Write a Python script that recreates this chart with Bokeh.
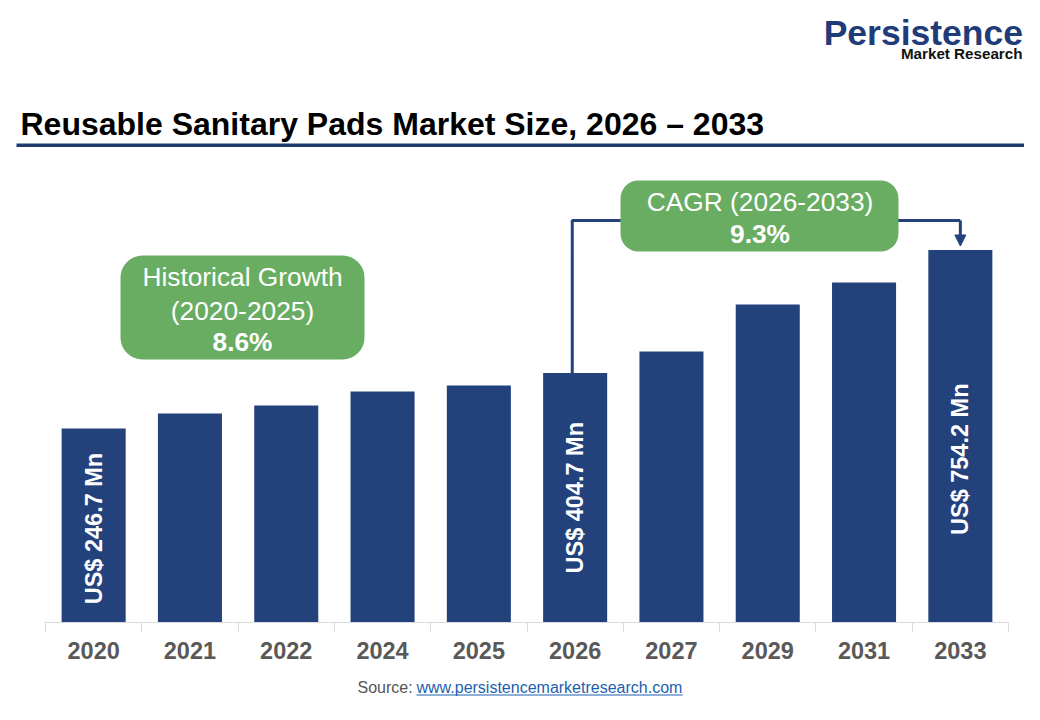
import math
from bokeh.plotting import figure
from bokeh.layouts import column
from bokeh.models import (Range1d, FixedTicker, Label, BoxAnnotation, Arrow,
                          NormalHead, ColumnDataSource)
from bokeh.core.properties import value
from bokeh.embed import file_html
from bokeh.resources import INLINE

# data
years = ["2020", "2021", "2022", "2024", "2025", "2026", "2027", "2029", "2031", "2033"]
market_size = [246.7, 289.5, 312.3, 352.1, 369.1, 404.7, 465.8, 599.3, 661.7, 754.2]
label_years = ["2020", "2026", "2033"]
hist_cagr = "8.6%"
fcst_cagr = "9.3%"

NAVY = "#23427c"
GREEN = "#69ad62"
FONT = "Liberation Sans"

# pixel layout of the infographic -> data units
CAT_LEFT = 45.0      # x of first category boundary
CAT_W = 96.3         # px per category
BASE_PX = 622.0      # y of the bar baseline
PX_PER_UNIT = 0.3519
FLOOR = -304.3       # value at the baseline (truncated axis)
W, H = 1024, 704
H_MAIN = 668


def ux(px):
    return (px - CAT_LEFT) / CAT_W


def vy(py):
    return FLOOR + (BASE_PX - py) / PX_PER_UNIT


p = figure(width=W, height=H_MAIN,
           x_range=Range1d(ux(0), ux(W)), y_range=Range1d(vy(BASE_PX), vy(0)),
           y_axis_location=None, toolbar_location=None, output_backend="svg",
           min_border_left=0, min_border_right=0, min_border_top=0,
           min_border_bottom=H_MAIN - int(BASE_PX), outline_line_color=None)
p.grid.visible = False
p.background_fill_color = "white"
p.border_fill_color = "white"

# bars
xs = [i + 0.5 for i in range(len(years))]
src = ColumnDataSource(dict(x=xs, top=market_size, year=years))
p.vbar(x="x", top="top", bottom=FLOOR, width=0.665, source=src,
       fill_color=NAVY, line_color=None)

# x axis: labels at category centers, small ticks at boundaries
ax = p.xaxis[0]
ax.ticker = FixedTicker(ticks=xs, minor_ticks=list(range(len(years) + 1)))
ax.major_label_overrides = {x: y for x, y in zip(xs, years)}
ax.bounds = (0, len(years))
ax.axis_line_color = "#d9d9d9"
ax.major_tick_out = 0
ax.major_tick_in = 0
ax.minor_tick_out = 9
ax.minor_tick_in = 0
ax.minor_tick_line_color = "#d9d9d9"
ax.major_label_text_font = FONT
ax.major_label_text_font_style = "bold"
ax.major_label_text_font_size = "23.5px"
ax.major_label_text_color = "#595959"
ax.major_label_standoff = 10

# rotated value labels inside bars
shift_px = [3, 0, 23]
lx, ly, lt = [], [], []
for yr, sh in zip(label_years, shift_px):
    i = years.index(yr)
    lx.append(xs[i])
    ly.append((FLOOR + market_size[i]) / 2 - sh / PX_PER_UNIT)
    lt.append("US$ %.1f Mn" % market_size[i])
p.text(x=lx, y=ly, text=lt, angle=math.pi / 2, text_align="center",
       text_baseline="middle", text_color="white", text_font=value(FONT),
       text_font_style="bold", text_font_size="23.5px")

# connector 2026 -> 2033
i26, i33 = years.index("2026"), years.index("2033")
level = vy(220)
p.line(x=[xs[i26] - 0.03, xs[i26] - 0.03, xs[i33]], y=[market_size[i26], level, level],
       line_color=NAVY, line_width=3)
p.add_layout(Arrow(end=NormalHead(size=11, fill_color=NAVY, line_color=NAVY),
                   line_color=NAVY, line_width=3,
                   x_start=xs[i33], y_start=level,
                   x_end=xs[i33], y_end=market_size[i33] + 4 / PX_PER_UNIT))

# green callouts
p.add_layout(BoxAnnotation(left=ux(620), right=ux(898), top=vy(180), bottom=vy(251),
                           fill_color=GREEN, fill_alpha=1, line_color=None,
                           border_radius=18))
p.add_layout(BoxAnnotation(left=ux(120), right=ux(364), top=vy(255), bottom=vy(359),
                           fill_color=GREEN, fill_alpha=1, line_color=None,
                           border_radius=22))


def lab(px, py, text, size, style="normal", color="white", align="center"):
    p.add_layout(Label(x=ux(px), y=vy(py), text=text, text_font=FONT,
                       text_font_size=size, text_font_style=style,
                       text_color=color, text_align=align, text_baseline="middle"))


lab(759.5, 201, "CAGR (2026-2033)", "26.3px")
lab(759.5, 233, fcst_cagr, "26.3px", "bold")
lab(242, 276, "Historical Growth", "26.3px")
lab(242, 310, "(2020-2025)", "26.3px")
lab(242, 341, hist_cagr, "26.3px", "bold")

# title + rule
lab(20, 123.7, "Reusable Sanitary Pads Market Size, 2026 \u2013 2033", "32px",
    "bold", "#000000", "left")
p.add_layout(BoxAnnotation(left=ux(16), right=ux(1030), top=vy(143), bottom=vy(146.5),
                           fill_color="#1f3b6e", fill_alpha=1, line_color=None))

# logo
lab(1022.5, 32.5, "Persistence", "35.5px", "bold", "#1f3b78", "right")
lab(1022, 52.8, "Market Research", "15.2px", "bold", "#111111", "right")

# source strip below the axis
s = figure(width=W, height=H - H_MAIN, x_range=Range1d(0, W), y_range=Range1d(H, H_MAIN),
           x_axis_location=None, y_axis_location=None, toolbar_location=None,
           output_backend="svg", min_border=0, outline_line_color=None)
s.grid.visible = False
s.add_layout(Label(x=357, y=687, text="Source:", text_font=FONT, text_font_size="16px",
                   text_color="#555555", text_align="left", text_baseline="middle"))
s.add_layout(Label(x=416, y=687, text="www.persistencemarketresearch.com", text_font=FONT,
                   text_font_size="16px", text_color="#1d5fae", text_align="left",
                   text_baseline="middle"))
s.add_layout(BoxAnnotation(left=416, right=682, top=694, bottom=695,
                           fill_color="#1d5fae", fill_alpha=1, line_color=None))

open("out.html", "w").write(file_html(column(p, s, spacing=0), INLINE))
